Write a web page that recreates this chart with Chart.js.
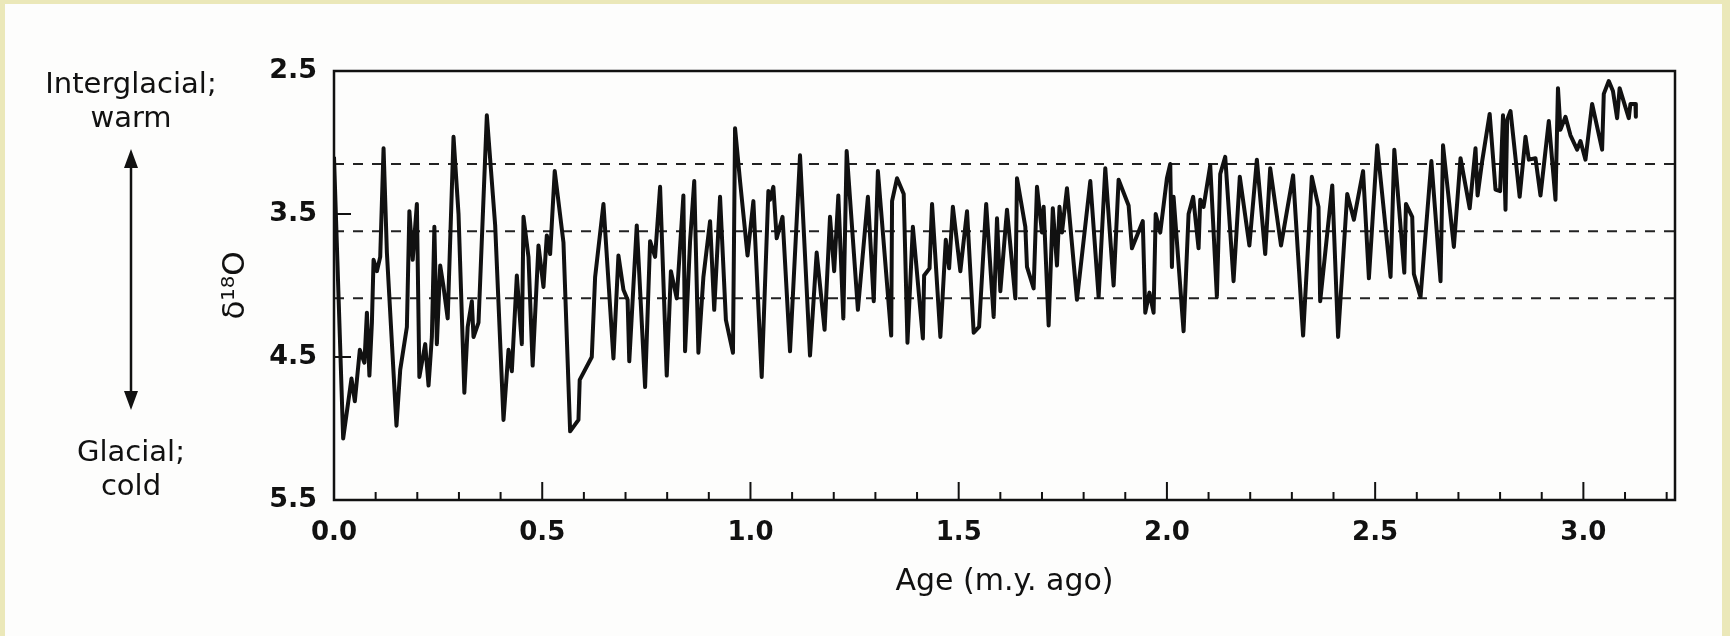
<!DOCTYPE html>
<html>
<head>
<meta charset="utf-8">
<title>Oxygen isotope record</title>
<script src="https://cdn.jsdelivr.net/npm/chart.js@4.4.1/dist/chart.umd.min.js"></script>
<style>
    html, body { margin: 0; padding: 0; background: #fdfdfc; }
    canvas { display: block; }
</style>
</head>
<body>
<canvas id="isotopeChart" width="1730" height="636"></canvas>
<script>
// Age in m.y. ago and the d18O value
const ages = [
    0.000, 0.022, 0.042, 0.050, 0.062, 0.073, 0.079, 0.085, 0.091, 0.095,
    0.103, 0.111, 0.119, 0.127, 0.150, 0.159, 0.175, 0.181, 0.189, 0.199,
    0.205, 0.219, 0.227, 0.235, 0.241, 0.247, 0.255, 0.263, 0.273, 0.287,
    0.299, 0.313, 0.321, 0.331, 0.335, 0.347, 0.367, 0.387, 0.407, 0.419,
    0.427, 0.439, 0.451, 0.455, 0.467, 0.477, 0.491, 0.503, 0.511, 0.519,
    0.530, 0.551, 0.567, 0.587, 0.590, 0.619, 0.627, 0.647, 0.671, 0.683,
    0.695, 0.705, 0.709, 0.727, 0.747, 0.759, 0.771, 0.783, 0.799, 0.809,
    0.823, 0.839, 0.843, 0.855, 0.865, 0.875, 0.887, 0.903, 0.913, 0.927,
    0.941, 0.958, 0.963, 0.975, 0.993, 1.007, 1.027, 1.043, 1.047, 1.055,
    1.063, 1.077, 1.095, 1.119, 1.143, 1.159, 1.178, 1.191, 1.201, 1.211,
    1.223, 1.231, 1.258, 1.282, 1.296, 1.306, 1.338, 1.340, 1.352, 1.368,
    1.377, 1.390, 1.414, 1.417, 1.430, 1.436, 1.456, 1.469, 1.477, 1.486,
    1.504, 1.520, 1.536, 1.549, 1.566, 1.584, 1.592, 1.600, 1.616, 1.636,
    1.640, 1.660, 1.664, 1.680, 1.688, 1.700, 1.704, 1.716, 1.726, 1.736,
    1.742, 1.748, 1.760, 1.784, 1.816, 1.836, 1.852, 1.872, 1.884, 1.908,
    1.916, 1.942, 1.948, 1.958, 1.968, 1.973, 1.984, 2.000, 2.008, 2.012,
    2.016, 2.040, 2.052, 2.063, 2.076, 2.080, 2.088, 2.104, 2.120, 2.128,
    2.140, 2.160, 2.175, 2.198, 2.216, 2.236, 2.248, 2.274, 2.303, 2.327,
    2.348, 2.364, 2.368, 2.397, 2.411, 2.433, 2.449, 2.471, 2.485, 2.505,
    2.537, 2.546, 2.570, 2.574, 2.589, 2.593, 2.609, 2.635, 2.657, 2.663,
    2.689, 2.705, 2.727, 2.741, 2.746, 2.757, 2.775, 2.789, 2.800, 2.807,
    2.813, 2.817, 2.825, 2.847, 2.861, 2.869, 2.885, 2.897, 2.917, 2.933,
    2.939, 2.945, 2.957, 2.969, 2.985, 2.993, 3.005, 3.021, 3.045, 3.049,
    3.061, 3.071, 3.081, 3.087, 3.109, 3.113, 3.125, 3.126
];
const d18O = [
    3.10, 5.07, 4.65, 4.81, 4.45, 4.54, 4.19, 4.63, 4.26, 3.82,
    3.90, 3.80, 3.04, 3.77, 4.98, 4.59, 4.29, 3.48, 3.82, 3.43,
    4.64, 4.41, 4.70, 4.36, 3.59, 4.41, 3.86, 4.01, 4.23, 2.96,
    3.50, 4.75, 4.29, 4.11, 4.36, 4.26, 2.81, 3.58, 4.94, 4.45,
    4.60, 3.93, 4.41, 3.52, 3.80, 4.56, 3.72, 4.01, 3.65, 3.78,
    3.20, 3.70, 5.02, 4.94, 4.66, 4.50, 3.94, 3.43, 4.51, 3.79,
    4.03, 4.10, 4.53, 3.58, 4.71, 3.69, 3.80, 3.31, 4.63, 3.90,
    4.09, 3.37, 4.46, 3.69, 3.27, 4.47, 3.94, 3.55, 4.17, 3.38,
    4.24, 4.47, 2.90, 3.27, 3.79, 3.41, 4.64, 3.34, 3.40, 3.31,
    3.67, 3.52, 4.46, 3.09, 4.49, 3.77, 4.31, 3.52, 3.90, 3.37,
    4.23, 3.06, 4.17, 3.38, 4.11, 3.20, 4.35, 3.41, 3.25, 3.36,
    4.40, 3.59, 4.37, 3.93, 3.88, 3.43, 4.36, 3.68, 3.88, 3.45,
    3.90, 3.48, 4.33, 4.29, 3.43, 4.22, 3.53, 4.04, 3.47, 4.09,
    3.25, 3.59, 3.87, 4.02, 3.31, 3.63, 3.45, 4.28, 3.46, 3.86,
    3.45, 3.63, 3.32, 4.10, 3.27, 4.08, 3.18, 4.00, 3.26, 3.44,
    3.74, 3.55, 4.19, 4.05, 4.19, 3.50, 3.63, 3.25, 3.15, 3.87,
    3.38, 4.32, 3.50, 3.38, 3.74, 3.40, 3.45, 3.16, 4.08, 3.22,
    3.10, 3.97, 3.24, 3.72, 3.12, 3.78, 3.18, 3.72, 3.23, 4.35,
    3.24, 3.45, 4.11, 3.30, 4.36, 3.36, 3.54, 3.20, 3.95, 3.02,
    3.94, 3.05, 3.91, 3.43, 3.52, 3.92, 4.08, 3.13, 3.97, 3.02,
    3.73, 3.11, 3.46, 3.04, 3.37, 3.13, 2.80, 3.33, 3.34, 2.81,
    3.47, 2.84, 2.78, 3.38, 2.96, 3.12, 3.11, 3.37, 2.85, 3.40,
    2.62, 2.91, 2.82, 2.95, 3.05, 2.99, 3.12, 2.73, 3.05, 2.66,
    2.57, 2.64, 2.83, 2.62, 2.83, 2.73, 2.73, 2.82
];

// dashed reference levels across the plot
const levels = [3.15, 3.62, 4.09];

// tick labels
const xTickValues = [0.0, 0.5, 1.0, 1.5, 2.0, 2.5, 3.0];
const yTickValues = [2.5, 3.5, 4.5, 5.5];
const xMax = 3.22;

const ink = '#111111';
const textFont = '"DejaVu Sans", "Liberation Sans", sans-serif';

document.addEventListener('DOMContentLoaded', () => {
    const ctx = document.getElementById('isotopeChart').getContext('2d');

    const datasets = [{
        data: ages.map((a, i) => ({ x: a, y: d18O[i] })),
        borderColor: ink,
        borderWidth: 4,
        borderJoinStyle: 'round',
        pointRadius: 0,
        tension: 0
    }];
    levels.forEach(level => {
        datasets.push({
            data: [{ x: 0, y: level }, { x: xMax, y: level }],
            borderColor: '#222222',
            borderWidth: 2,
            borderDash: [10, 9],
            pointRadius: 0
        });
    });

    // scanned-paper background with the yellow edge
    const paperPlugin = {
        id: 'paper',
        beforeDraw(chart) {
            const c = chart.ctx;
            c.save();
            c.fillStyle = '#ebe8b9';
            c.fillRect(0, 0, chart.width, chart.height);
            c.fillStyle = '#fdfdfc';
            c.fillRect(5, 4, chart.width - 13, chart.height - 4);
            c.restore();
        }
    };

    // box around the plot and inward tick marks
    const framePlugin = {
        id: 'frame',
        afterDraw(chart) {
            const c = chart.ctx;
            const a = chart.chartArea;
            const x = chart.scales.x;
            const y = chart.scales.y;
            c.save();
            c.strokeStyle = ink;
            c.lineWidth = 2.5;
            c.strokeRect(a.left, a.top, a.right - a.left, a.bottom - a.top);

            c.lineWidth = 2;
            c.beginPath();
            for (let i = 1; i <= 32; i++) {
                const px = x.getPixelForValue(i / 10);
                const len = i % 5 === 0 ? 18 : 8;
                c.moveTo(px, a.bottom);
                c.lineTo(px, a.bottom - len);
            }
            yTickValues.forEach(v => {
                const py = y.getPixelForValue(v);
                c.moveTo(a.left, py);
                c.lineTo(a.left + 17, py);
            });
            c.stroke();
            c.restore();
        }
    };

    // warm / cold notes with the double arrow on the left
    const notesPlugin = {
        id: 'notes',
        afterDraw(chart) {
            const c = chart.ctx;
            const cx = 131;
            c.save();
            c.fillStyle = ink;
            c.strokeStyle = ink;
            c.font = '29px ' + textFont;
            c.textAlign = 'center';
            c.textBaseline = 'middle';
            c.fillText('Interglacial;', cx, 85);
            c.fillText('warm', cx, 119);
            c.fillText('Glacial;', cx, 453);
            c.fillText('cold', cx, 487);

            c.lineWidth = 2.5;
            c.beginPath();
            c.moveTo(cx, 160);
            c.lineTo(cx, 398);
            c.stroke();
            c.beginPath();
            c.moveTo(cx, 149);
            c.lineTo(cx - 7, 168);
            c.lineTo(cx + 7, 168);
            c.closePath();
            c.moveTo(cx, 410);
            c.lineTo(cx - 7, 391);
            c.lineTo(cx + 7, 391);
            c.closePath();
            c.fill();
            c.restore();
        }
    };

    new Chart(ctx, {
        type: 'line',
        data: { datasets: datasets },
        options: {
            responsive: false,
            animation: false,
            devicePixelRatio: 1,
            layout: {
                padding: { left: 217, right: 55, top: 71, bottom: 0 }
            },
            plugins: {
                legend: { display: false },
                tooltip: { enabled: false }
            },
            scales: {
                x: {
                    type: 'linear',
                    min: 0,
                    max: xMax,
                    grid: { display: false, drawTicks: false },
                    border: { display: false },
                    afterBuildTicks: scale => {
                        scale.ticks = xTickValues.map(v => ({ value: v }));
                    },
                    afterFit: scale => { scale.height = 136; },
                    ticks: {
                        padding: 18,
                        color: ink,
                        font: { family: textFont, size: 26, weight: 'bold' },
                        callback: value => Number(value).toFixed(1)
                    },
                    title: {
                        display: true,
                        text: 'Age (m.y. ago)',
                        color: ink,
                        font: { family: textFont, size: 30 },
                        padding: { top: 0, bottom: 36 }
                    }
                },
                y: {
                    type: 'linear',
                    reverse: true,
                    min: 2.5,
                    max: 5.5,
                    grid: { display: false, drawTicks: false },
                    border: { display: false },
                    afterBuildTicks: scale => {
                        scale.ticks = yTickValues.map(v => ({ value: v }));
                    },
                    afterFit: scale => { scale.width = 117; },
                    ticks: {
                        padding: 17,
                        color: ink,
                        font: { family: textFont, size: 27, weight: 'bold' },
                        callback: value => Number(value).toFixed(1)
                    },
                    title: {
                        display: true,
                        text: 'δ¹⁸O',
                        color: ink,
                        font: { family: textFont, size: 31 },
                        padding: { top: 0, bottom: 0 }
                    }
                }
            }
        },
        plugins: [paperPlugin, framePlugin, notesPlugin]
    });
});
</script>
</body>
</html>
